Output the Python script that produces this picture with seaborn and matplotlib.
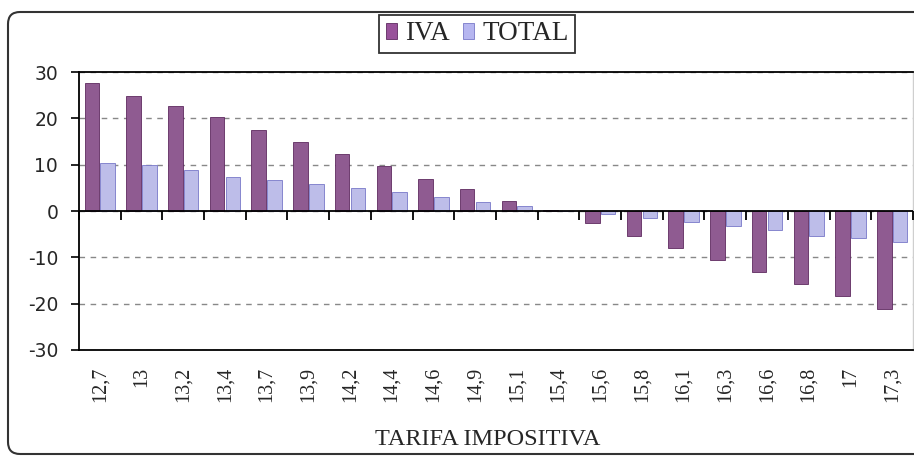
import numpy as np
import pandas as pd
import matplotlib
matplotlib.use("Agg")
import matplotlib.pyplot as plt
from matplotlib.patches import FancyBboxPatch, Patch
import seaborn as sns

# -------------------------------
# Data
# -------------------------------
tarifas = ["12,7", "13", "13,2", "13,4", "13,7", "13,9", "14,2", "14,4", "14,6", "14,9",
           "15,1", "15,4", "15,6", "15,8", "16,1", "16,3", "16,6", "16,8", "17", "17,3"]
iva = [27.6, 24.9, 22.6, 20.2, 17.6, 14.9, 12.3, 9.8, 7.0, 4.7,
       2.1, 0.3, -2.6, -5.3, -8.0, -10.6, -13.2, -15.8, -18.4, -21.1]
total = [10.4, 10.0, 8.9, 7.4, 6.7, 5.8, 5.0, 4.0, 3.1, 2.0,
         1.0, 0.1, -0.7, -1.4, -2.4, -3.3, -4.2, -5.4, -5.9, -6.7]
series = ["IVA", "TOTAL"]
colors = {"IVA": "#98529a", "TOTAL": "#b6b6f0"}
edges = {"IVA": "#5e2a60", "TOTAL": "#7878c8"}
y_ticks = [-30, -20, -10, 0, 10, 20, 30]

df = pd.DataFrame({
    "tarifa": tarifas * 2,
    "valor": iva + total,
    "serie": ["IVA"] * len(tarifas) + ["TOTAL"] * len(tarifas),
})

# -------------------------------
# Figure
# -------------------------------
sns.set_style("white")
plt.rcParams["font.family"] = ["Liberation Serif", "DejaVu Serif"]

fig = plt.figure(figsize=(9.14, 4.59), dpi=100)
ax = fig.add_axes([0.0864, 0.2375, 0.9125, 0.6055])

sns.barplot(data=df, x="tarifa", y="valor", hue="serie", order=tarifas,
            hue_order=series, palette=colors, width=0.76, gap=0.08,
            legend=False, ax=ax, zorder=3)

for bar_group, name in zip(ax.containers, series):
    for bar in bar_group:
        bar.set_edgecolor(edges[name])
        bar.set_linewidth(0.6)

ax.set_ylim(-30, 30)
ax.set_xlim(-0.5, len(tarifas) - 0.5)
ax.set_yticks(y_ticks)
ax.set_yticklabels([str(v) for v in y_ticks], family="DejaVu Sans", fontsize=13.5)
ax.tick_params(axis="y", direction="out", length=6, width=1.2, color="black", pad=9, left=True)
ax.tick_params(axis="x", length=0, pad=12)
for lab in ax.get_xticklabels():
    lab.set_rotation(90)
    lab.set_fontsize(14.5)
    lab.set_verticalalignment("top")

# dashed gridlines
ax.yaxis.grid(True, linestyle=(0, (4, 4)), color="#888888", linewidth=1.0, zorder=0)
ax.set_axisbelow(True)

# zero axis with category tick marks
ax.axhline(0, color="black", linewidth=1.3, zorder=4)
ax.vlines(np.arange(len(tarifas) + 1) - 0.5, -1.9, 0, color="black", linewidth=1.3,
          zorder=4, clip_on=False)

for side in ["top", "bottom", "left"]:
    ax.spines[side].set_color("black")
    ax.spines[side].set_linewidth(1.3)
ax.spines["right"].set_color("#cfcfcf")
ax.spines["right"].set_linewidth(1.0)

ax.set_xlabel("TARIFA IMPOSITIVA", fontsize=17.5)
ax.set_ylabel("")
ax.xaxis.set_label_coords(0.49, -0.285)

handles = [Patch(facecolor=colors[s], edgecolor=edges[s], linewidth=0.6) for s in series]
leg = ax.legend(handles, series, loc="center", bbox_to_anchor=(0.522, 0.926),
                bbox_transform=fig.transFigure, ncol=2, fontsize=19.5, frameon=True,
                fancybox=False, edgecolor="black", handlelength=0.4, handleheight=0.55,
                handletextpad=0.3, columnspacing=0.5, borderpad=0.25, borderaxespad=0)
leg.get_frame().set_linewidth(1.3)

# rounded chart-area border
border = FancyBboxPatch((0.08, 0.05), 9.4, 4.42,
                        boxstyle="round,pad=0,rounding_size=0.12",
                        transform=fig.dpi_scale_trans, facecolor="none",
                        edgecolor="#333333", linewidth=1.5)
fig.add_artist(border)

fig.savefig("out.png", dpi=100)
